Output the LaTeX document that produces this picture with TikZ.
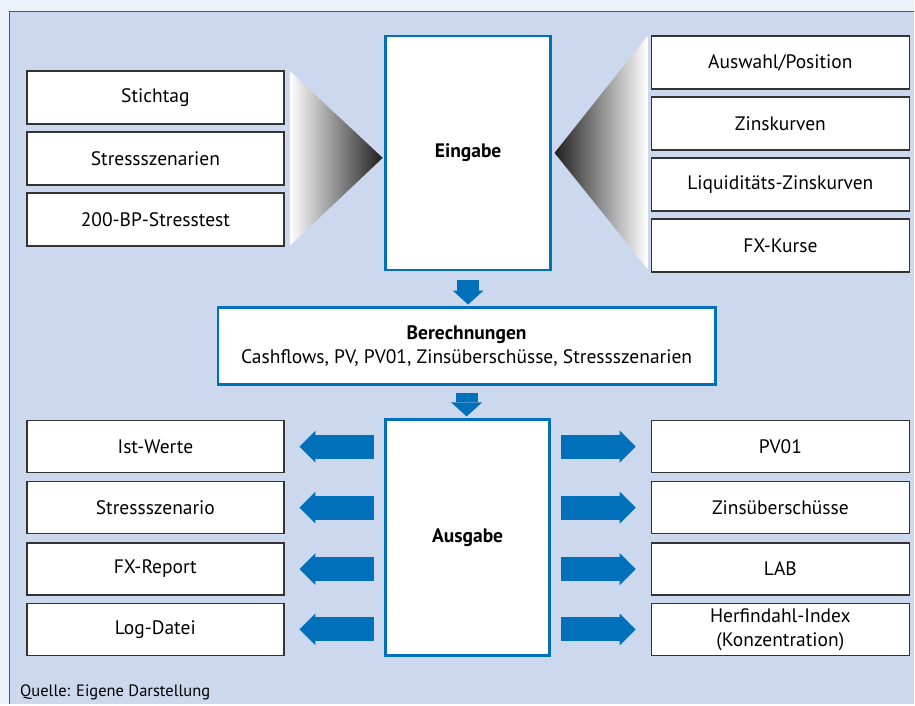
\documentclass[tikz,border=0pt]{standalone}
\usepackage{fontspec}
\setmainfont{PT Sans}
\usetikzlibrary{arrows.meta}
\definecolor{framebg}{HTML}{EDF1F9}
\definecolor{panelbg}{HTML}{CBD8EE}
\definecolor{ablue}{HTML}{0070BA}
\definecolor{boxline}{HTML}{333333}
\newcommand{\boxfont}{\fontsize{19.5}{24}\selectfont}
\tikzset{
  inbox/.style={draw=boxline, line width=1.5pt, fill=white, minimum width=257pt,
    minimum height=53pt, inner sep=0pt, align=center},
  outbox/.style={inbox, minimum height=52pt},
  mainbox/.style={draw=ablue, line width=2.5pt, fill=white, inner sep=0pt,
    align=center, font=\boxfont\bfseries},
  fatdown/.style={ablue, line width=22pt, -{Triangle[length=14pt,width=31pt,line width=0pt]}},
  fatside/.style={ablue, line width=24pt, -{Triangle[length=16pt,width=32pt,line width=0pt]},
    shorten <=10pt, shorten >=15pt},
}
\begin{document}
\begin{tikzpicture}[x=1pt, y=-1pt, font=\boxfont]
    % Background and frame
    \fill[framebg] (0,0) rectangle (915,705);
    \fill[panelbg] (9.5,11.5) rectangle (915,705);
    \draw[line width=1.5pt, black!65] (9.5,705) -- (9.5,11.5) -- (915,11.5);

    % Input side
    \node[inbox] (stichtag) at (155.5,97.5) {Stichtag};
    \node[inbox] (szen) at (155.5,158.5) {Stressszenarien};
    \node[inbox] (bp200) at (155.5,219.5) {200-BP-Stresstest};

    \node[inbox, minimum width=258pt] (auswahl) at (781,62.5) {Auswahl/Position};
    \node[inbox, minimum width=258pt] (zins) at (781,123.5) {Zinskurven};
    \node[inbox, minimum width=258pt] (liqzins) at (781,184.5) {Liquiditäts-Zinskurven};
    \node[inbox, minimum width=258pt] (fxkurse) at (781,245.5) {FX-Kurse};

    \node[mainbox, minimum width=165pt, minimum height=234pt] (eingabe) at (468.5,153) {Eingabe};

    % Funnels
    \shade[left color=white, right color=black!88] (290,71) -- (383,158) -- (290,246) -- cycle;
    \shade[left color=black!88, right color=white] (648,36) -- (555,153) -- (648,269) -- cycle;

    % Calculation
    \node[mainbox, minimum width=498pt, minimum height=77pt, font=\boxfont] (berech) at (467,346.5)
        {\textbf{Berechnungen}\\Cashflows, PV, PV01, Zinsüberschüsse, Stressszenarien};

    % Output side
    \node[mainbox, minimum width=164pt, minimum height=236pt] (ausgabe) at (468,538) {Ausgabe};

    \node[outbox] (ist) at (155.5,447) {Ist-Werte};
    \node[outbox] (szenario) at (155.5,508) {Stressszenario};
    \node[outbox] (fxrep) at (155.5,569.5) {FX-Report};
    \node[outbox] (logdat) at (155.5,630) {Log-Datei};

    \node[outbox, minimum width=258pt] (pv01) at (781,447) {PV01};
    \node[outbox, minimum width=258pt] (zue) at (781,508) {Zinsüberschüsse};
    \node[outbox, minimum width=258pt] (lab) at (781,569.5) {LAB};
    \node[outbox, minimum width=258pt] (herf) at (781,630) {Herfindahl-Index\\(Konzentration)};

    % Arrows
    \draw[fatdown, shorten <=9pt, shorten >=2pt] (eingabe.south) -- (eingabe.south |- berech.north);
    \draw[fatdown, shorten <=7pt, shorten >=2pt] (berech.south) -- (berech.south |- ausgabe.north);

    \draw[fatside] (ausgabe.west |- ist.east) -- (ist.east);
    \draw[fatside] (ausgabe.west |- szenario.east) -- (szenario.east);
    \draw[fatside] (ausgabe.west |- fxrep.east) -- (fxrep.east);
    \draw[fatside] (ausgabe.west |- logdat.east) -- (logdat.east);
    \draw[fatside] (ausgabe.east |- pv01.west) -- (pv01.west);
    \draw[fatside] (ausgabe.east |- zue.west) -- (zue.west);
    \draw[fatside] (ausgabe.east |- lab.west) -- (lab.west);
    \draw[fatside] (ausgabe.east |- herf.west) -- (herf.west);

    % Source
    \node[anchor=base west, inner sep=0pt, font=\fontsize{16.5}{19}\selectfont] (quelle) at (20,697)
        {Quelle: Eigene Darstellung};
\end{tikzpicture}
\end{document}
